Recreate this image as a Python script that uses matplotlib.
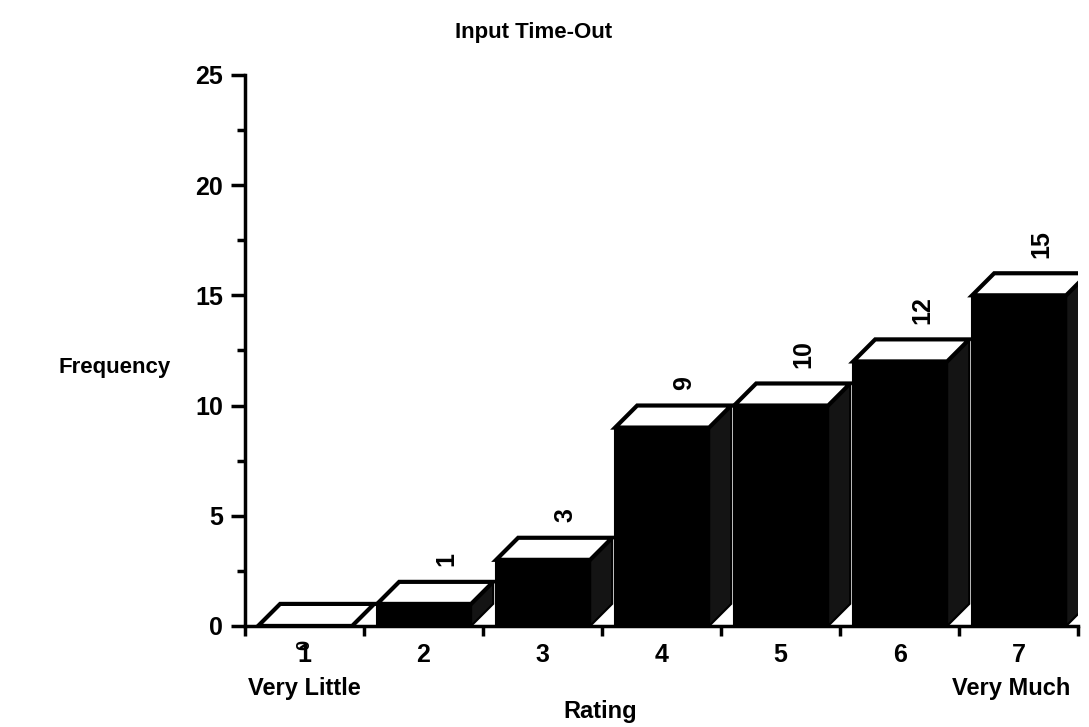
import matplotlib
matplotlib.use("Agg")
import matplotlib.pyplot as plt
from matplotlib.patches import Polygon

plt.rcParams['font.family'] = ['Liberation Sans', 'DejaVu Sans']

# data
ratings = ["1", "2", "3", "4", "5", "6", "7"]
counts = [0, 1, 3, 9, 10, 12, 15]
title = "Input Time-Out"

# 3D box geometry (category units / y units)
X0, W, DX, DY = 0.11, 0.79, 0.185, 1.0

fig = plt.figure(figsize=(10.89, 7.27), dpi=100)
ax = fig.add_axes([0.225, 0.139, 0.765, 0.758])

for i, v in enumerate(counts):
    xl, xr = i + X0, i + X0 + W
    if v > 0:
        ax.add_patch(Polygon([(xl, 0), (xr, 0), (xr, v), (xl, v)], closed=True,
                             facecolor="black", edgecolor="black", lw=1.5, zorder=2 + i))
        ax.add_patch(Polygon([(xr, 0), (xr + DX, DY), (xr + DX, v + DY), (xr, v)], closed=True,
                             facecolor="#141414", edgecolor="black", lw=1.5, zorder=2 + i))
    ax.add_patch(Polygon([(xl, v), (xr, v), (xr + DX, v + DY), (xl + DX, v + DY)], closed=True,
                         facecolor="white", edgecolor="black", lw=3, joinstyle="miter",
                         zorder=2 + i))
    if v > 0:
        ax.text(xl + W / 2 + DX, v + DY + 0.7, str(v), rotation=90, ha="center", va="bottom",
                fontsize=18, fontweight="bold")
    else:
        ax.text(i + 0.5, -0.85, str(v), rotation=90, ha="center", va="center",
                fontsize=13, fontweight="bold", clip_on=False)

ax.set_xlim(0, 7)
ax.set_ylim(0, 25)
ax.spines["top"].set_visible(False)
ax.spines["right"].set_visible(False)
ax.spines["left"].set_linewidth(2.5)
ax.spines["bottom"].set_linewidth(2.5)

ax.set_yticks([0, 5, 10, 15, 20, 25])
ax.set_yticks([2.5, 7.5, 12.5, 17.5, 22.5], minor=True)
ax.tick_params(axis="y", which="major", length=10, width=2.5, labelsize=18, pad=6)
ax.tick_params(axis="y", which="minor", length=6, width=2.5)
for lbl in ax.get_yticklabels():
    lbl.set_fontweight("bold")

ax.set_xticks(range(8))
ax.set_xticklabels([])
ax.set_xticks([i + 0.5 for i in range(7)], minor=True)
ax.set_xticklabels(ratings, minor=True, fontsize=18, fontweight="bold")
ax.tick_params(axis="x", which="major", length=7, width=2.5)
ax.tick_params(axis="x", which="minor", length=0, pad=12)

fig.text(0.228, 0.053, "Very Little", fontsize=17, fontweight="bold", va="center", ha="left")
fig.text(0.983, 0.053, "Very Much", fontsize=17, fontweight="bold", va="center", ha="right")
fig.text(0.551, 0.021, "Rating", fontsize=17, fontweight="bold", va="center", ha="center")
fig.text(0.105, 0.494, "Frequency", fontsize=16, fontweight="bold", va="center", ha="center")
fig.text(0.490, 0.955, title, fontsize=16, fontweight="bold", va="center", ha="center")

fig.savefig("out.png", dpi=100)
